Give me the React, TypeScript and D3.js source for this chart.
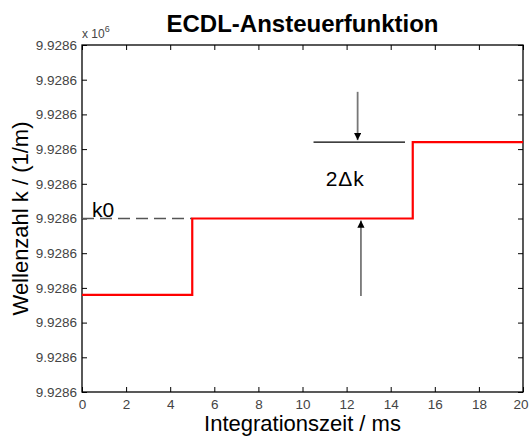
import * as d3 from 'd3';
import { useEffect, useRef } from 'react';

// chart data (y in offset units, all tick labels read 9.9286 x 10^6)
const timeMs = [0, 5, 15, 20];
const levels = [2.8, 5.0, 7.2, 7.2];
const xTicks = [0, 2, 4, 6, 8, 10, 12, 14, 16, 18, 20];
const yTicks = [0, 1, 2, 3, 4, 5, 6, 7, 8, 9, 10];
const yTickLabels = ['9.9286', '9.9286', '9.9286', '9.9286', '9.9286', '9.9286', '9.9286', '9.9286', '9.9286', '9.9286', '9.9286'];
const k0Level = 5.0;

const App = () => {
    const svgRef = useRef<SVGSVGElement | null>(null);

    useEffect(() => {
        const width = 529;
        const height = 436;
        const m = { left: 82, right: 6, top: 45, bottom: 44 };

        const svg = d3.select(svgRef.current);
        svg.selectAll('*').remove();
        svg.attr('width', width).attr('height', height);
        svg.append('rect').attr('width', width).attr('height', height).attr('fill', '#fff');

        const x = d3.scaleLinear().domain([0, 20]).range([m.left, width - m.right]);
        const y = d3.scaleLinear().domain([0, 10]).range([height - m.bottom, m.top]);
        const font = 'Arial, "Liberation Sans", sans-serif';

        // axes box with inward ticks (matlab style)
        const tickStyle = (g: any) => {
            g.select('.domain').remove();
            g.selectAll('line').attr('stroke', '#000');
            g.selectAll('text').attr('fill', '#444').style('font-family', font).style('font-size', '13.5px');
        };

        const xAxis = svg.append('g')
            .attr('transform', `translate(0,${y(0)})`)
            .call(d3.axisBottom(x).tickValues(xTicks).tickSizeInner(-5).tickSizeOuter(0).tickPadding(7).tickFormat(d3.format('d')))
            .call(tickStyle);
        // last label sits at the right edge of the window
        xAxis.selectAll('text').filter((d: any) => d === 20).attr('text-anchor', 'end').attr('dx', 5);

        svg.append('g')
            .attr('transform', `translate(0,${y(10)})`)
            .call(d3.axisTop(x).tickValues(xTicks).tickSizeInner(-5).tickSizeOuter(0).tickFormat(() => ''))
            .call(tickStyle);
        svg.append('g')
            .attr('transform', `translate(${x(0)},0)`)
            .call(d3.axisLeft(y).tickValues(yTicks).tickSizeInner(-5).tickSizeOuter(0).tickPadding(5).tickFormat((_d, i) => yTickLabels[i]))
            .call(tickStyle);
        svg.append('g')
            .attr('transform', `translate(${x(20)},0)`)
            .call(d3.axisRight(y).tickValues(yTicks).tickSizeInner(-5).tickSizeOuter(0).tickFormat(() => ''))
            .call(tickStyle);

        svg.append('rect')
            .attr('x', x(0))
            .attr('y', y(10))
            .attr('width', x(20) - x(0))
            .attr('height', y(0) - y(10))
            .attr('fill', 'none')
            .attr('stroke', '#000')
            .attr('stroke-width', 1.3);

        // k0 dashed reference
        svg.append('line')
            .attr('x1', x(0))
            .attr('x2', x(timeMs[1]))
            .attr('y1', y(k0Level))
            .attr('y2', y(k0Level))
            .attr('stroke', '#555')
            .attr('stroke-width', 1.3)
            .attr('stroke-dasharray', '12,6');

        // step signal
        const line = d3
            .line<number>()
            .x((_d, i) => x(timeMs[i]))
            .y((d) => y(d))
            .curve(d3.curveStepAfter);
        svg.append('path')
            .attr('d', line(levels))
            .attr('fill', 'none')
            .attr('stroke', '#ff0000')
            .attr('stroke-width', 2.2);

        // annotations
        const defs = svg.append('defs');
        defs.append('marker')
            .attr('id', 'arr')
            .attr('viewBox', '0 0 10 10')
            .attr('refX', 10)
            .attr('refY', 5)
            .attr('markerWidth', 4)
            .attr('markerHeight', 4)
            .attr('orient', 'auto')
            .attr('markerUnits', 'strokeWidth')
            .append('path')
            .attr('d', 'M0,0L10,5L0,10Z')
            .attr('fill', '#000');

        svg.append('line')
            .attr('x1', x(10.5))
            .attr('x2', x(14.65))
            .attr('y1', y(7.2))
            .attr('y2', y(7.2))
            .attr('stroke', '#000')
            .attr('stroke-width', 1.2);

        svg.append('line')
            .attr('x1', x(12.5))
            .attr('x2', x(12.5))
            .attr('y1', y(8.65))
            .attr('y2', y(7.2) - 2)
            .attr('stroke', '#777')
            .attr('stroke-width', 1.8)
            .attr('marker-end', 'url(#arr)');

        svg.append('line')
            .attr('x1', x(12.65))
            .attr('x2', x(12.65))
            .attr('y1', y(2.77))
            .attr('y2', y(k0Level) + 2)
            .attr('stroke', '#777')
            .attr('stroke-width', 1.8)
            .attr('marker-end', 'url(#arr)');

        svg.append('text')
            .attr('x', x(11.05))
            .attr('y', y(5.95))
            .style('font-family', font)
            .style('font-size', '21px')
            .style('letter-spacing', '1px')
            .attr('fill', '#000')
            .text('2\u0394k');

        svg.append('text')
            .attr('x', x(0.45))
            .attr('y', y(k0Level) - 2)
            .style('font-family', font)
            .style('font-size', '21px')
            .attr('fill', '#000')
            .text('k0');

        // exponent marker
        const ex = svg.append('text').attr('x', x(0)).attr('y', y(10) - 7).style('font-family', font).style('font-size', '12px').attr('fill', '#444');
        ex.append('tspan').text('x 10');
        ex.append('tspan').attr('dy', -6).style('font-size', '9px').text('6');

        // titles
        svg.append('text')
            .attr('x', (x(0) + x(20)) / 2)
            .attr('y', 32)
            .attr('text-anchor', 'middle')
            .style('font-family', font)
            .style('font-size', '24px')
            .style('font-weight', 'bold')
            .text('ECDL-Ansteuerfunktion');

        svg.append('text')
            .attr('x', (x(0) + x(20)) / 2)
            .attr('y', 431)
            .attr('text-anchor', 'middle')
            .style('font-family', font)
            .style('font-size', '22px')
            .text('Integrationszeit / ms');

        svg.append('text')
            .attr('transform', `translate(28,${(y(0) + y(10)) / 2}) rotate(-90)`)
            .attr('text-anchor', 'middle')
            .style('font-family', font)
            .style('font-size', '22px')
            .text('Wellenzahl k / (1/m)');
    }, []);

    return <svg ref={svgRef} style={{ position: 'absolute', left: 0, top: 0, display: 'block' }} />;
};

export default App;
